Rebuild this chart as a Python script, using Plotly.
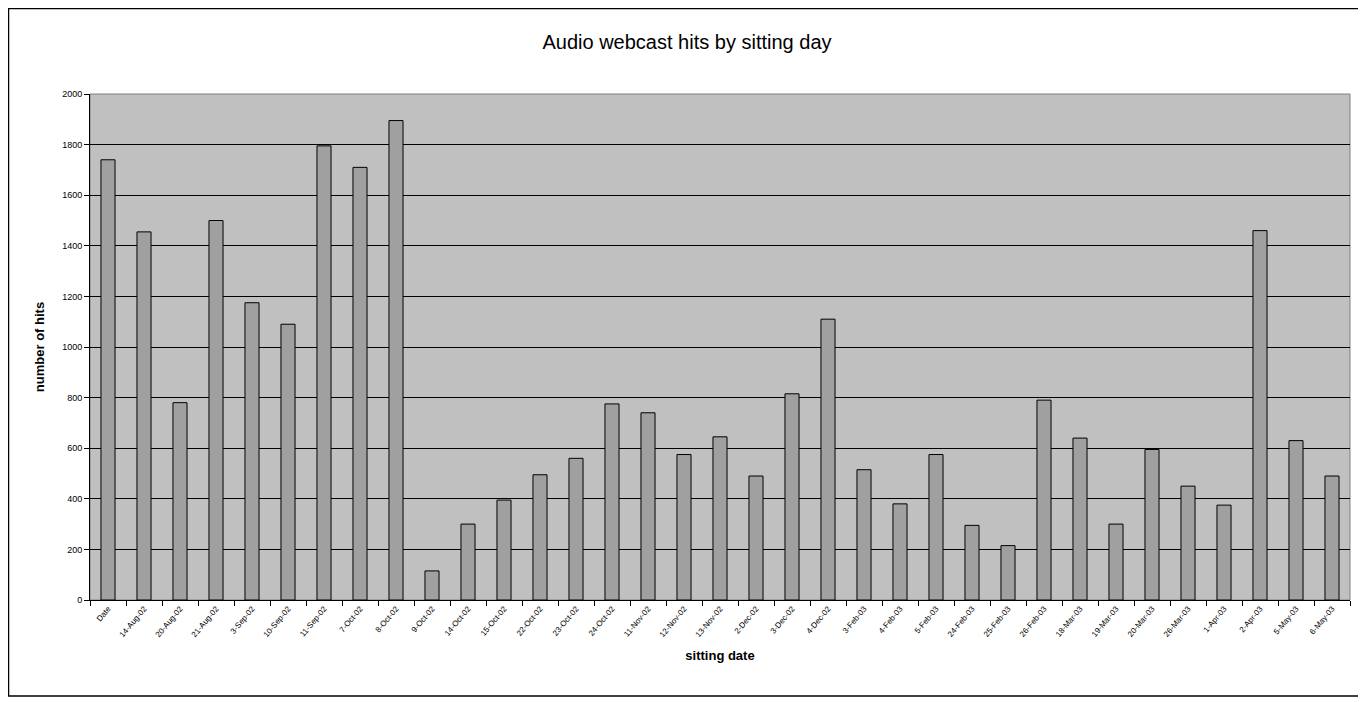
import plotly.graph_objects as go

dates = ["Date", "14-Aug-02", "20-Aug-02", "21-Aug-02", "3-Sep-02", "10-Sep-02", "11-Sep-02",
         "7-Oct-02", "8-Oct-02", "9-Oct-02", "14-Oct-02", "15-Oct-02", "22-Oct-02", "23-Oct-02",
         "24-Oct-02", "11-Nov-02", "12-Nov-02", "13-Nov-02", "2-Dec-02", "3-Dec-02", "4-Dec-02",
         "3-Feb-03", "4-Feb-03", "5-Feb-03", "24-Feb-03", "25-Feb-03", "26-Feb-03", "18-Mar-03",
         "19-Mar-03", "20-Mar-03", "26-Mar-03", "1-Apr-03", "2-Apr-03", "5-May-03", "6-May-03"]
hits = [1740, 1455, 780, 1500, 1175, 1090, 1795, 1710, 1895, 115, 300, 395, 495, 560, 775,
        740, 575, 645, 490, 815, 1110, 515, 380, 575, 295, 215, 790, 640, 300, 595, 450, 375,
        1460, 630, 490]
y_ticks = [0, 200, 400, 600, 800, 1000, 1200, 1400, 1600, 1800, 2000]

fig = go.Figure(go.Bar(
    x=dates, y=hits, width=0.39,
    marker=dict(color="#A0A0A0", line=dict(color="black", width=1)),
))

# page has an 8px body margin, so the figure is drawn from (8, 8)
OFF = 8
W, H = 1366 - OFF, 702 - OFF
L, R, T, B = 90 - OFF, 16, 94 - OFF, 102
pw, ph = W - L - R, H - T - B

fig.update_layout(
    width=W, height=H,
    margin=dict(l=L, r=R, t=T, b=B),
    paper_bgcolor="white", plot_bgcolor="#C0C0C0",
    font=dict(family="Liberation Sans, Arial", color="black"),
    title=dict(text="Audio webcast hits by sitting day", x=0.5, xanchor="center",
               y=1 - (42 - OFF) / H, yanchor="middle", font=dict(size=20)),
    showlegend=False,
    bargap=0.6,
)
fig.update_xaxes(
    type="category", tickson="boundaries", ticks="outside", ticklen=5, tickcolor="black",
    tickangle=-50, tickfont=dict(size=8), showline=True, linecolor="black", linewidth=1,
    showgrid=False,
    title=dict(text="<b>sitting date</b>", font=dict(size=13), standoff=12),
)
fig.update_yaxes(
    range=[0, 2000], tickvals=y_ticks, ticks="outside", ticklen=5, tickcolor="black",
    tickfont=dict(size=9), showline=True, linecolor="black", linewidth=1,
    showgrid=True, gridcolor="black", gridwidth=1, zeroline=False,
    title=dict(text="<b>number of hits</b>", font=dict(size=13), standoff=14),
)
# outer chart border
fig.add_shape(type="rect", xref="paper", yref="paper",
              x0=(0.5 - L) / pw, x1=(W - 2.5 - L) / pw,
              y0=(H - B - (H - 6)) / ph, y1=(H - B - 0.5) / ph,
              line=dict(color="black", width=1.5), fillcolor="rgba(0,0,0,0)", layer="below")
# plot area border
fig.add_shape(type="rect", xref="paper", yref="paper", x0=0, x1=1, y0=0, y1=1,
              line=dict(color="#808080", width=1), fillcolor="rgba(0,0,0,0)", layer="below")

fig.write_html("out.html")
